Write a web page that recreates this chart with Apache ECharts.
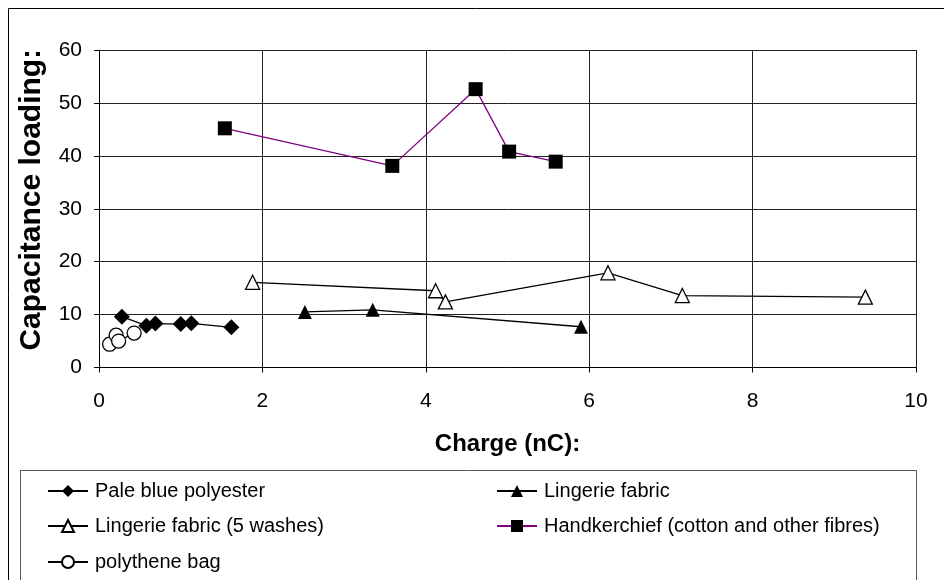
<!DOCTYPE html>
<html>
<head>
<meta charset="utf-8">
<script src="https://cdn.jsdelivr.net/npm/echarts@6/dist/echarts.min.js"></script>
<style>
  html, body { margin: 0; padding: 0; background: #fff; }
  #chart { width: 944px; height: 580px; }
</style>
</head>
<body>
<div id="chart"></div>
<script>
// Charge (nC) vs capacitance loading for several materials
const paleBlueCharge = [0.28, 0.58, 0.69, 1.00, 1.13, 1.62];
const paleBlueLoad   = [9.6, 7.9, 8.3, 8.2, 8.35, 7.6];

const lingerieCharge = [2.52, 3.35, 5.90];
const lingerieLoad   = [10.5, 10.9, 7.7];

const washedCharge = [1.88, 4.12, 4.24, 6.23, 7.14, 9.38];
const washedLoad   = [16.1, 14.5, 12.4, 17.9, 13.6, 13.3];

const hankyCharge = [1.54, 3.59, 4.61, 5.02, 5.59];
const hankyLoad   = [45.2, 38.1, 52.6, 40.8, 38.9];

const bagCharge = [0.13, 0.21, 0.24, 0.43];
const bagLoad   = [4.4, 6.1, 5.0, 6.5];

const seriesNames = [
  'Pale blue polyester',
  'Lingerie fabric',
  'Lingerie fabric (5 washes)',
  'Handkerchief (cotton and other fibres)',
  'polythene bag'
];

const xTicks = [0, 2, 4, 6, 8, 10];
const yTicks = [0, 10, 20, 30, 40, 50, 60];

const FONT = '"Liberation Sans", Arial, sans-serif';

function pairs(xs, ys) {
  return xs.map((x, i) => [x, ys[i]]);
}

function lineSeries(name, xs, ys, symbol, size, fill, lineColor) {
  return {
    name: name,
    type: 'line',
    data: pairs(xs, ys),
    symbol: symbol,
    symbolSize: size,
    showAllSymbol: true,
    animation: false,
    lineStyle: { color: lineColor, width: 1.3 },
    itemStyle: { color: fill, borderColor: '#000', borderWidth: fill === '#fff' ? 1.3 : 0 },
    emphasis: { disabled: true },
    z: 3
  };
}

// one legend entry per component so the two-column layout stays fixed
function legendEntry(name, left, top) {
  return {
    orient: 'horizontal',
    left: left,
    top: top,
    itemWidth: 40,
    itemHeight: 15,
    padding: 0,
    textStyle: { fontFamily: FONT, fontSize: 20, lineHeight: 20, color: '#000', padding: [0, 0, 0, 2] },
    selectedMode: false,
    data: [name]
  };
}

const chart = echarts.init(document.getElementById('chart'), null, { renderer: 'canvas' });

const col1 = 47, col2 = 496;
const rows = [481, 516, 552];

chart.setOption({
  backgroundColor: '#fff',
  animation: false,
  grid: { left: 99, right: 28, top: 50, bottom: 212.5, containLabel: false },
  xAxis: {
    type: 'value',
    min: xTicks[0],
    max: xTicks[xTicks.length - 1],
    interval: 2,
    name: 'Charge (nC):',
    nameLocation: 'middle',
    nameGap: 65,
    nameTextStyle: { fontFamily: FONT, fontSize: 24, fontWeight: 'bold', color: '#000' },
    axisLine: { show: true, onZero: false, lineStyle: { color: '#000', width: 1 } },
    axisTick: { show: true, length: 5, lineStyle: { color: '#000' } },
    axisLabel: { fontFamily: FONT, fontSize: 21, color: '#000', margin: 23 },
    splitLine: { show: true, lineStyle: { color: '#222', width: 1 } }
  },
  yAxis: {
    type: 'value',
    min: yTicks[0],
    max: yTicks[yTicks.length - 1],
    interval: 10,
    name: 'Capacitance loading:',
    nameLocation: 'middle',
    nameGap: 52,
    nameRotate: 90,
    nameTextStyle: { fontFamily: FONT, fontSize: 30, fontWeight: 'bold', color: '#000', padding: [0, 0, 0, 18] },
    axisLine: { show: true, lineStyle: { color: '#000', width: 1 } },
    axisTick: { show: true, length: 5, lineStyle: { color: '#000' } },
    axisLabel: { fontFamily: FONT, fontSize: 21, color: '#000', margin: 17 },
    splitLine: { show: true, lineStyle: { color: '#222', width: 1 } }
  },
  legend: [
    legendEntry(seriesNames[0], col1, rows[0]),
    legendEntry(seriesNames[2], col1, rows[1]),
    legendEntry(seriesNames[4], col1, rows[2]),
    legendEntry(seriesNames[1], col2, rows[0]),
    legendEntry(seriesNames[3], col2, rows[1])
  ],
  graphic: [
    {
      type: 'rect',
      shape: { x: 8.5, y: 8.5, width: 960, height: 600 },
      style: { fill: 'none', stroke: '#000', lineWidth: 1 },
      silent: true
    },
    {
      type: 'rect',
      shape: { x: 20.5, y: 470.5, width: 896, height: 140 },
      style: { fill: 'none', stroke: '#555', lineWidth: 1 },
      silent: true
    }
  ],
  series: [
    lineSeries(seriesNames[0], paleBlueCharge, paleBlueLoad, 'diamond', 16, '#000', '#000'),
    lineSeries(seriesNames[1], lingerieCharge, lingerieLoad, 'triangle', 14, '#000', '#000'),
    lineSeries(seriesNames[2], washedCharge, washedLoad, 'triangle', 14, '#fff', '#000'),
    lineSeries(seriesNames[3], hankyCharge, hankyLoad, 'rect', 14, '#000', '#800080'),
    lineSeries(seriesNames[4], bagCharge, bagLoad, 'circle', 14, '#fff', '#000')
  ]
});
</script>
</body>
</html>
